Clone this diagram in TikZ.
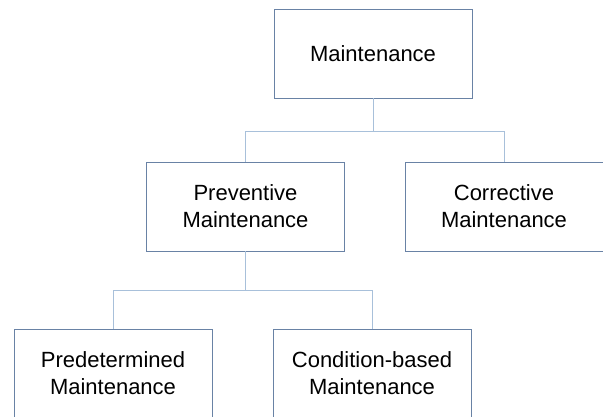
\documentclass[tikz,border=0pt]{standalone}
\usepackage{fontspec}
\setmainfont{Liberation Sans}
\usetikzlibrary{calc}
\definecolor{boxline}{RGB}{105,130,165}
\definecolor{linkline}{RGB}{168,192,218}

\begin{document}
\begin{tikzpicture}[x=1pt,y=-1pt,
  mbox/.style={draw=boxline,line width=0.9pt,minimum width=198pt,minimum height=89pt,
    inner sep=0pt,align=center,font=\fontsize{22}{27}\selectfont},
  link/.style={draw=linkline,line width=0.9pt}]
% Page frame
\useasboundingbox (0,0) rectangle (603,416);
% Top box
\node[mbox] (maint) at (373,53.5) {Maintenance};
% Second row
\node[mbox] (prev) at (245.5,206.5) {Preventive\\Maintenance};
\node[mbox] (corr) at (504,206.5) {Corrective\\Maintenance};
% Third row, cut off at the bottom
\node[mbox] (pred) at (113,373.5) {Predetermined\\Maintenance};
\node[mbox] (cond) at (372,373.5) {Condition-based\\Maintenance};
% Bus under the top box
\coordinate (bus1) at (373,131);
\draw[link] (maint.south) -- (bus1);
\draw[link] (bus1) -| (prev.north);
\draw[link] (bus1) -| (corr.north);
% Bus under preventive box
\coordinate (bus2) at (245.5,290);
\draw[link] (prev.south) -- (bus2);
\draw[link] (bus2) -| (pred.north);
\draw[link] (bus2) -| (cond.north);
\end{tikzpicture}
\end{document}
